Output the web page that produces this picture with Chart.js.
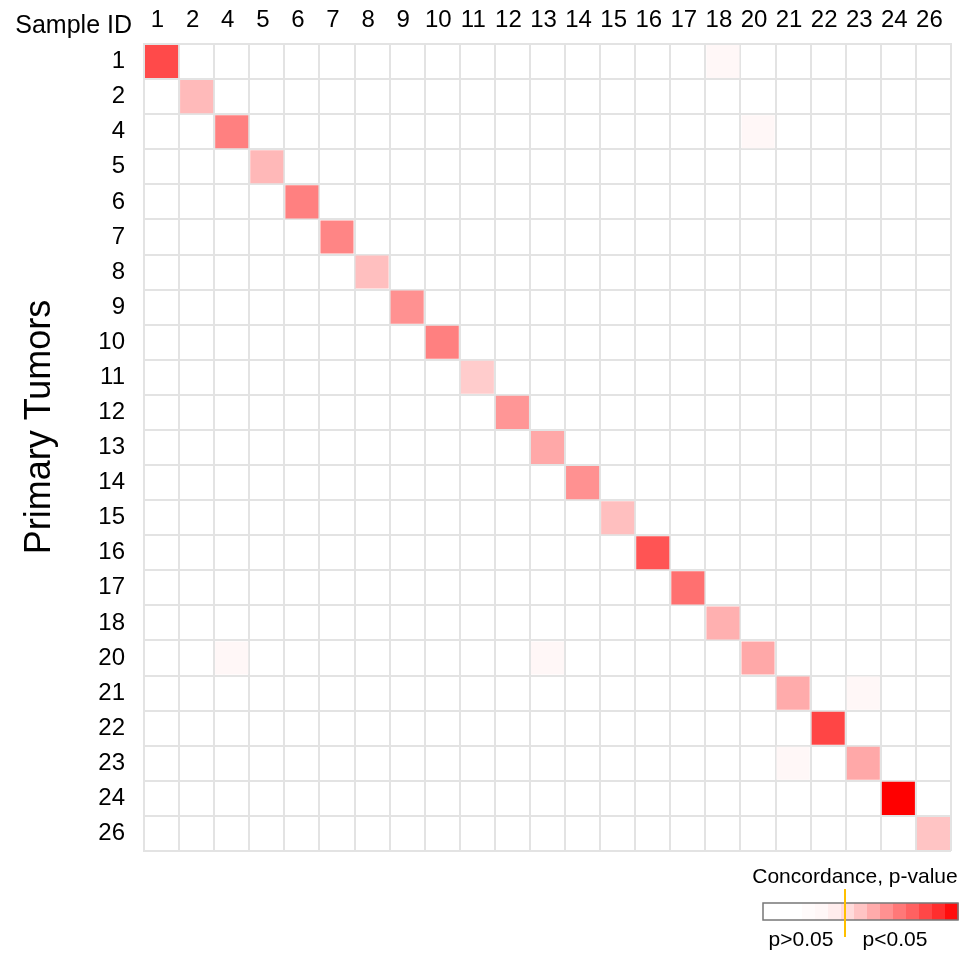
<!DOCTYPE html>
<html>
<head>
<meta charset="utf-8">
<script src="https://cdn.jsdelivr.net/npm/chart.js@4.4.1/dist/chart.umd.min.js"></script>
<style>
    html, body { margin: 0; padding: 0; background: #fff; }
    #wrap { width: 964px; height: 954px; }
</style>
</head>
<body>
<div id="wrap"><canvas id="concordanceChart"></canvas></div>
<script>
    // sample ids, same order on both axes (top -> bottom, left -> right)
    const sampleIds = ['1', '2', '4', '5', '6', '7', '8', '9', '10', '11', '12', '13',
        '14', '15', '16', '17', '18', '20', '21', '22', '23', '24', '26'];

    // concordance strength on the diagonal (0 = white, 1 = full red)
    const diagonalScores = [0.71, 0.27, 0.50, 0.28, 0.50, 0.48, 0.25, 0.43, 0.50, 0.20, 0.41, 0.34,
        0.43, 0.25, 0.67, 0.56, 0.31, 0.34, 0.33, 0.73, 0.34, 1.00, 0.23];

    // faint off-diagonal cells: [row (primary tumor), column (sample), score]
    const offDiagonalRows = ['1', '4', '20', '20', '21', '23'];
    const offDiagonalCols = ['18', '20', '4', '13', '23', '21'];
    const offDiagonalScores = [0.03, 0.03, 0.03, 0.03, 0.03, 0.03];

    // colour key steps and its texts
    const legendSteps = [0, 0, 0, 0.015, 0.03, 0.07, 0.14, 0.23, 0.33, 0.43, 0.53, 0.62, 0.72, 0.82, 0.95];
    const legendTitle = 'Concordance, p-value';
    const legendLabels = ['p>0.05', 'p<0.05'];
    const xAxisLabel = 'Sample ID';
    const yAxisLabel = 'Primary Tumors';

    const gridColor = '#e3e3e3';
    const fontFamily = 'Liberation Sans, Arial, sans-serif';

    function scoreColor(v)
    {
        const g = Math.round(255 * (1 - v));
        return `rgb(255, ${g}, ${g})`;
    }

    function buildCells()
    {
        const cells = sampleIds.map((id, i) => ({x: id, y: id, v: diagonalScores[i]}));
        offDiagonalRows.forEach((row, i) => {
            cells.push({x: offDiagonalCols[i], y: row, v: offDiagonalScores[i]});
        });
        return cells;
    }

    /** extra texts and the colour key **/
    const annotations = {
        id: 'annotations',
        afterDraw(chart) {
            const ctx = chart.ctx;
            ctx.save();
            ctx.fillStyle = '#000';

            ctx.font = `25px ${fontFamily}`;
            ctx.textAlign = 'right';
            ctx.textBaseline = 'alphabetic';
            ctx.fillText(xAxisLabel, 132, 33);

            ctx.save();
            ctx.translate(40, 427);
            ctx.rotate(-Math.PI / 2);
            ctx.font = `36px ${fontFamily}`;
            ctx.textAlign = 'center';
            ctx.textBaseline = 'middle';
            ctx.fillText(yAxisLabel, 0, 0);
            ctx.restore();

            // colour key
            const barLeft = 763, barTop = 903, barWidth = 195, barHeight = 17;
            const stepW = barWidth / legendSteps.length;
            legendSteps.forEach((v, i) => {
                ctx.fillStyle = scoreColor(v);
                ctx.fillRect(barLeft + i * stepW, barTop, stepW + 0.5, barHeight);
            });
            ctx.strokeStyle = '#777';
            ctx.lineWidth = 1.5;
            ctx.strokeRect(barLeft, barTop, barWidth, barHeight);

            ctx.strokeStyle = '#ffc000';
            ctx.lineWidth = 2;
            ctx.beginPath();
            ctx.moveTo(845, 889);
            ctx.lineTo(845, 937);
            ctx.stroke();

            ctx.fillStyle = '#000';
            ctx.font = `21px ${fontFamily}`;
            ctx.textAlign = 'center';
            ctx.fillText(legendTitle, 855, 883);
            ctx.fillText(legendLabels[0], 801, 946);
            ctx.fillText(legendLabels[1], 895, 946);
            ctx.restore();
        }
    };

    function cellRadius(context)
    {
        const xScale = context.chart.scales.x;
        const side = xScale.width / sampleIds.length - 2;
        return side / (2 * Math.SQRT1_2);
    }

    new Chart(document.getElementById('concordanceChart'), {
        type: 'scatter',
        data: {
            datasets: [{
                data: buildCells(),
                pointStyle: 'rect',
                pointRadius: cellRadius,
                pointHoverRadius: cellRadius,
                pointBorderWidth: 0,
                pointBackgroundColor: ctx => scoreColor(ctx.raw ? ctx.raw.v : 0),
                pointBorderColor: 'rgba(0,0,0,0)',
            }]
        },
        options: {
            responsive: true,
            maintainAspectRatio: false,
            animation: false,
            events: [],
            layout: {
                padding: {left: 0, top: 0, right: 13, bottom: 103}
            },
            plugins: {
                legend: {display: false},
                tooltip: {enabled: false},
            },
            scales: {
                x: {
                    type: 'category',
                    labels: sampleIds,
                    position: 'top',
                    offset: true,
                    grid: {color: gridColor, lineWidth: 2, offset: true, drawTicks: false},
                    border: {color: gridColor, width: 2},
                    ticks: {color: '#000', padding: 9, maxRotation: 0, autoSkip: false, labelOffset: -4,
                        font: {family: fontFamily, size: 24}},
                    afterFit: scale => { scale.height = 44; },
                },
                y: {
                    type: 'category',
                    labels: sampleIds,
                    offset: true,
                    grid: {color: gridColor, lineWidth: 2, offset: true, drawTicks: false},
                    border: {color: gridColor, width: 2},
                    ticks: {color: '#000', padding: 19, autoSkip: false,
                        font: {family: fontFamily, size: 24}},
                    afterFit: scale => { scale.width = 144; },
                }
            }
        },
        plugins: [annotations]
    });
</script>
</body>
</html>
